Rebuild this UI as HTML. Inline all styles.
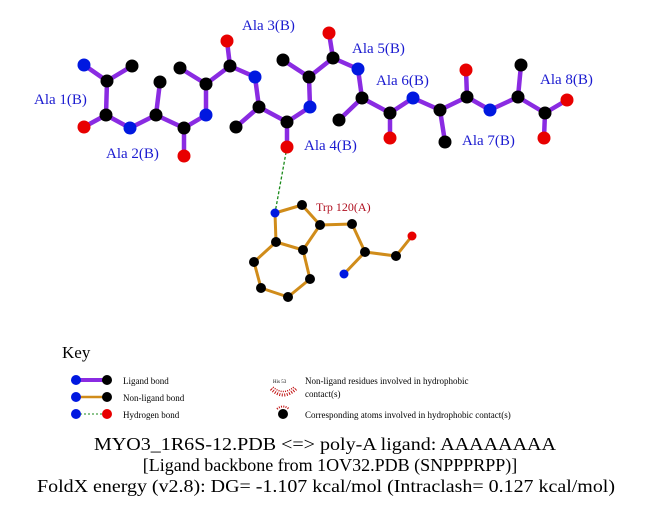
<!DOCTYPE html>
<html><head><meta charset="utf-8"><style>body{margin:0;background:#fff}svg{display:block}</style></head><body>
<svg width="651" height="511" xmlns="http://www.w3.org/2000/svg" font-family="Liberation Serif, serif">
<rect width="651" height="511" fill="#fff"/>
<g stroke="#8a2be2" stroke-width="4.5" stroke-linecap="round">
<line x1="84" y1="65" x2="107" y2="81"/><line x1="107" y1="81" x2="132" y2="66"/><line x1="107" y1="81" x2="106" y2="115"/><line x1="106" y1="115" x2="84" y2="127"/><line x1="106" y1="115" x2="130" y2="128"/>
<line x1="130" y1="128" x2="156" y2="115"/><line x1="156" y1="115" x2="160" y2="82"/><line x1="156" y1="115" x2="184" y2="128"/><line x1="184" y1="128" x2="184" y2="156"/><line x1="184" y1="128" x2="206" y2="115"/>
<line x1="206" y1="115" x2="206" y2="84"/><line x1="206" y1="84" x2="180" y2="68"/><line x1="206" y1="84" x2="230" y2="66"/><line x1="230" y1="66" x2="227" y2="41"/><line x1="230" y1="66" x2="255" y2="77"/>
<line x1="255" y1="77" x2="259" y2="107"/><line x1="259" y1="107" x2="236" y2="127"/><line x1="259" y1="107" x2="287" y2="122"/><line x1="287" y1="122" x2="287" y2="147"/><line x1="287" y1="122" x2="310" y2="107"/>
<line x1="310" y1="107" x2="309" y2="77"/><line x1="309" y1="77" x2="283" y2="60"/><line x1="309" y1="77" x2="333" y2="58"/><line x1="333" y1="58" x2="329" y2="33"/><line x1="333" y1="58" x2="358" y2="69"/>
<line x1="358" y1="69" x2="362" y2="98"/><line x1="362" y1="98" x2="339" y2="120"/><line x1="362" y1="98" x2="390" y2="113"/><line x1="390" y1="113" x2="390" y2="138"/><line x1="390" y1="113" x2="413" y2="98"/>
<line x1="413" y1="98" x2="440" y2="110"/><line x1="440" y1="110" x2="445" y2="142"/><line x1="440" y1="110" x2="467" y2="97"/><line x1="467" y1="97" x2="466" y2="70"/><line x1="467" y1="97" x2="490" y2="110"/>
<line x1="490" y1="110" x2="518" y2="97"/><line x1="518" y1="97" x2="521" y2="65"/><line x1="518" y1="97" x2="545" y2="113"/><line x1="545" y1="113" x2="544" y2="138"/><line x1="545" y1="113" x2="567" y2="100"/>
</g>
<line x1="287" y1="147" x2="275" y2="213" stroke="#1a8a1a" stroke-width="1.3" stroke-dasharray="3,2"/>
<g stroke="#d08c1a" stroke-width="3" stroke-linecap="round">
<line x1="275" y1="213" x2="302" y2="205"/><line x1="302" y1="205" x2="320" y2="225"/><line x1="320" y1="225" x2="303" y2="250"/><line x1="303" y1="250" x2="276" y2="242"/><line x1="276" y1="242" x2="275" y2="213"/>
<line x1="276" y1="242" x2="254" y2="262"/><line x1="254" y1="262" x2="261" y2="288"/><line x1="261" y1="288" x2="288" y2="297"/><line x1="288" y1="297" x2="310" y2="279"/><line x1="310" y1="279" x2="303" y2="250"/>
<line x1="320" y1="225" x2="352" y2="224"/><line x1="352" y1="224" x2="365" y2="252"/><line x1="365" y1="252" x2="396" y2="256"/><line x1="396" y1="256" x2="412" y2="236"/><line x1="365" y1="252" x2="344" y2="274"/>
</g>
<g fill="#000">
<circle cx="107" cy="81" r="6.5"/><circle cx="132" cy="66" r="6.5"/><circle cx="106" cy="115" r="6.5"/><circle cx="156" cy="115" r="6.5"/><circle cx="160" cy="82" r="6.5"/><circle cx="184" cy="128" r="6.5"/>
<circle cx="206" cy="84" r="6.5"/><circle cx="180" cy="68" r="6.5"/><circle cx="230" cy="66" r="6.5"/><circle cx="259" cy="107" r="6.5"/><circle cx="236" cy="127" r="6.5"/><circle cx="287" cy="122" r="6.5"/>
<circle cx="309" cy="77" r="6.5"/><circle cx="283" cy="60" r="6.5"/><circle cx="333" cy="58" r="6.5"/><circle cx="362" cy="98" r="6.5"/><circle cx="339" cy="120" r="6.5"/><circle cx="390" cy="113" r="6.5"/>
<circle cx="440" cy="110" r="6.5"/><circle cx="445" cy="142" r="6.5"/><circle cx="467" cy="97" r="6.5"/><circle cx="518" cy="97" r="6.5"/><circle cx="521" cy="65" r="6.5"/><circle cx="545" cy="113" r="6.5"/>
<circle cx="302" cy="205" r="5"/><circle cx="320" cy="225" r="5"/><circle cx="303" cy="250" r="5"/><circle cx="276" cy="242" r="5"/><circle cx="254" cy="262" r="5"/><circle cx="261" cy="288" r="5"/><circle cx="288" cy="297" r="5"/><circle cx="310" cy="279" r="5"/><circle cx="352" cy="224" r="5"/><circle cx="365" cy="252" r="5"/><circle cx="396" cy="256" r="5"/>
</g>
<g fill="#0018e0">
<circle cx="84" cy="65" r="6.5"/><circle cx="130" cy="128" r="6.5"/><circle cx="206" cy="115" r="6.5"/><circle cx="255" cy="77" r="6.5"/><circle cx="310" cy="107" r="6.5"/><circle cx="358" cy="69" r="6.5"/><circle cx="413" cy="98" r="6.5"/><circle cx="490" cy="110" r="6.5"/>
<circle cx="275" cy="213" r="4.5"/><circle cx="344" cy="274" r="4.5"/>
</g>
<g fill="#e80000">
<circle cx="84" cy="127" r="6.5"/><circle cx="184" cy="156" r="6.5"/><circle cx="227" cy="41" r="6.5"/><circle cx="287" cy="147" r="6.5"/><circle cx="329" cy="33" r="6.5"/><circle cx="390" cy="138" r="6.5"/><circle cx="466" cy="70" r="6.5"/><circle cx="544" cy="138" r="6.5"/><circle cx="567" cy="100" r="6.5"/>
<circle cx="412" cy="236" r="4.5"/>
</g>
<g fill="#1a1ad0" font-size="15">
<text x="34" y="104">Ala 1(B)</text><text x="106" y="158">Ala 2(B)</text><text x="242" y="30">Ala 3(B)</text><text x="304" y="150">Ala 4(B)</text>
<text x="352" y="53">Ala 5(B)</text><text x="376" y="85">Ala 6(B)</text><text x="462" y="145">Ala 7(B)</text><text x="540" y="84">Ala 8(B)</text>
</g>
<text x="316" y="211" fill="#b01020" font-size="12">Trp 120(A)</text>
<text x="62" y="358" font-size="17">Key</text>
<line x1="76" y1="380" x2="107" y2="380" stroke="#8a2be2" stroke-width="4"/>
<circle cx="76" cy="380" r="5" fill="#0018e0"/><circle cx="107" cy="380" r="5" fill="#000"/>
<line x1="76" y1="397" x2="107" y2="397" stroke="#d08c1a" stroke-width="2.5"/>
<circle cx="76" cy="397" r="5" fill="#0018e0"/><circle cx="107" cy="397" r="5" fill="#000"/>
<line x1="76" y1="414" x2="107" y2="414" stroke="#1a8a1a" stroke-width="1" stroke-dasharray="2,2"/>
<circle cx="76" cy="414" r="5" fill="#0018e0"/><circle cx="107" cy="414" r="5" fill="#e80000"/>
<g font-size="9" fill="#000">
<text x="123" y="384">Ligand bond</text><text x="123" y="401">Non-ligand bond</text><text x="123" y="418">Hydrogen bond</text>
<text x="305" y="384">Non-ligand residues involved in hydrophobic</text><text x="305" y="397">contact(s)</text>
<text x="305" y="418">Corresponding atoms involved in hydrophobic contact(s)</text>
</g>
<text x="273" y="383" font-size="5" fill="#000">His 53</text>
<path d="M273 387 Q283 396 294 387" fill="none" stroke="#c01010" stroke-width="1.5" stroke-dasharray="1,1.2"/>
<path d="M271 389 Q283 401 296 389" fill="none" stroke="#c01010" stroke-width="3" stroke-dasharray="1,1.5"/>
<circle cx="283" cy="414" r="5" fill="#000"/>
<path d="M277 409 Q283 404 289 409" fill="none" stroke="#c01010" stroke-width="2" stroke-dasharray="1,1.3"/>
<g font-size="18" text-anchor="middle" fill="#000">
<text x="325" y="450" textLength="462" lengthAdjust="spacingAndGlyphs">MYO3_1R6S-12.PDB &lt;=&gt; poly-A ligand: AAAAAAAA</text>
<text x="330" y="471">[Ligand backbone from 1OV32.PDB (SNPPPRPP)]</text>
<text x="326" y="492" textLength="578" lengthAdjust="spacingAndGlyphs">FoldX energy (v2.8): DG= -1.107 kcal/mol (Intraclash= 0.127 kcal/mol)</text>
</g>
</svg>
</body></html>
